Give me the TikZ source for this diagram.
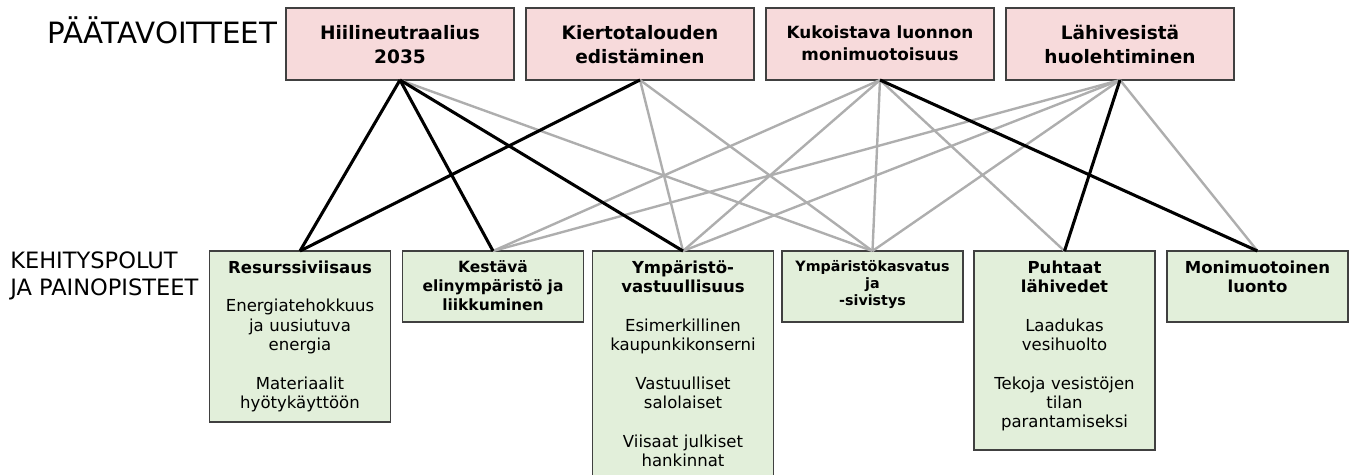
\documentclass[tikz,border=0pt]{standalone}
\usepackage{fontspec}
\setmainfont{DejaVu Sans}
\definecolor{pinkfill}{HTML}{F7DADB}
\definecolor{greenfill}{HTML}{E2EFDA}
\definecolor{boxline}{HTML}{404040}
\definecolor{grayline}{HTML}{AEAEAE}
\begin{document}
\begin{tikzpicture}[x=0.75pt,y=-0.75pt,
  topbox/.style={draw=boxline, line width=1pt, fill=pinkfill, minimum width=171pt, minimum height=54pt, inner sep=0pt, outer sep=0pt},
  botbox/.style={draw=boxline, line width=1pt, fill=greenfill, minimum width=135.75pt, inner sep=0pt, outer sep=0pt},
  strongline/.style={draw=black, line width=2.3pt},
  weakline/.style={draw=grayline, line width=1.8pt},
  toptext/.style={anchor=base, align=center, text width=165pt, inner sep=0pt, font=\bfseries\fontsize{13.9}{18}\selectfont},
  boxtext/.style={anchor=base, align=center, text width=132pt, inner sep=0pt, font=\fontsize{12.4}{14.5}\selectfont},
  sidelabel/.style={anchor=base west, inner sep=0pt}
]
\useasboundingbox (0,0) rectangle (1354,475);

% top row
\node[topbox] (t1) at (400,44) {};
\node[topbox] (t2) at (640,44) {};
\node[topbox] (t3) at (880,44) {};
\node[topbox] (t4) at (1120,44) {};

% bottom row
\node[botbox, minimum height=128.25pt] (b1) at (300,336.5) {};
\node[botbox, minimum height=53.25pt] (b2) at (493,286.5) {};
\node[botbox, minimum height=172.5pt] (b3) at (683,366) {};
\node[botbox, minimum height=53.25pt] (b4) at (872.5,286.5) {};
\node[botbox, minimum height=149.25pt] (b5) at (1064.5,350.5) {};
\node[botbox, minimum height=53.25pt] (b6) at (1257.5,286.5) {};

% connectors
\path[weakline] (t1.south) -- (b4.north);
\path[weakline] (t2.south) -- (b3.north);
\path[weakline] (t2.south) -- (b4.north);
\path[weakline] (t3.south) -- (b2.north);
\path[weakline] (t3.south) -- (b3.north);
\path[weakline] (t3.south) -- (b4.north);
\path[weakline] (t3.south) -- (b5.north);
\path[weakline] (t4.south) -- (b2.north);
\path[weakline] (t4.south) -- (b3.north);
\path[weakline] (t4.south) -- (b4.north);
\path[weakline] (t4.south) -- (b6.north);
\path[strongline] (t1.south) -- (b1.north);
\path[strongline] (t1.south) -- (b2.north);
\path[strongline] (t1.south) -- (b3.north);
\path[strongline] (t2.south) -- (b1.north);
\path[strongline] (t3.south) -- (b6.north);
\path[strongline] (t4.south) -- (b5.north);

% texts
\node[sidelabel, font=\fontsize{22}{26}\selectfont] (lab1) at (47,43) {PÄÄTAVOITTEET};
\node[sidelabel, font=\fontsize{16.9}{20}\selectfont] (lab2) at (10,268) {KEHITYSPOLUT};
\node[sidelabel, font=\fontsize{16.9}{20}\selectfont] (lab3) at (10,295) {JA PAINOPISTEET};

\node[toptext] (tt1) at (400,39) {Hiilineutraalius\\2035};
\node[toptext] (tt2) at (640,39) {Kiertotalouden\\edistäminen};
\node[toptext, font=\bfseries\fontsize{12.6}{16.5}\selectfont] (tt3) at (880,38) {Kukoistava luonnon\\monimuotoisuus};
\node[toptext] (tt4) at (1120,39) {Lähivesistä\\huolehtiminen};

\node[boxtext] (bt1) at (300,273) {\textbf{Resurssiviisaus}\\[14.5pt]Energiatehokkuus\\ja uusiutuva\\energia\\[14.5pt]Materiaalit\\hyötykäyttöön};
\node[boxtext, font=\bfseries\fontsize{11.6}{14.25}\selectfont] (bt2) at (493,272) {Kestävä\\elinympäristö ja\\liikkuminen};
\node[boxtext] (bt3) at (683,273) {\textbf{Ympäristö-}\\\textbf{vastuullisuus}\\[14.5pt]Esimerkillinen\\kaupunkikonserni\\[14.5pt]Vastuulliset\\salolaiset\\[14.5pt]Viisaat julkiset\\hankinnat};
\node[boxtext, font=\bfseries\fontsize{10.7}{12.9}\selectfont] (bt4) at (872.5,271) {Ympäristökasvatus\\ja\\-sivistys};
\node[boxtext] (bt5) at (1064.5,273) {\textbf{Puhtaat}\\\textbf{lähivedet}\\[14.5pt]Laadukas\\vesihuolto\\[14.5pt]Tekoja vesistöjen\\tilan\\parantamiseksi};
\node[boxtext, font=\bfseries\fontsize{12.4}{14.5}\selectfont] (bt6) at (1257.5,273) {Monimuotoinen\\luonto};
\end{tikzpicture}
\end{document}
